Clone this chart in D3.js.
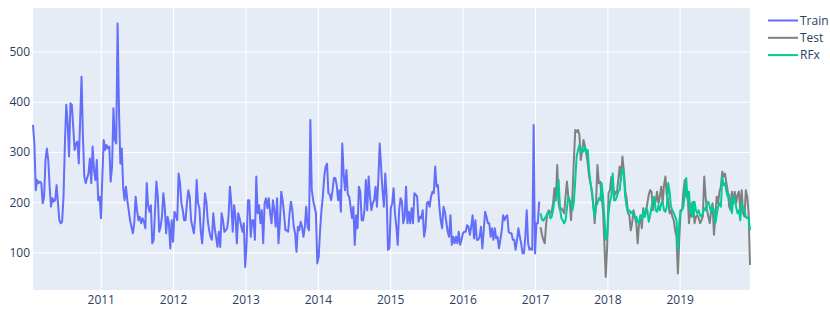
<!DOCTYPE html>
<html>
<head>
<meta charset="utf-8">
<script src="https://cdn.jsdelivr.net/npm/d3@7"></script>
<style>
  body { margin: 0; background: #fff; }
  svg text { font-family: "Open Sans", verdana, arial, sans-serif; fill: #2a3f5f; font-size: 12px; }
</style>
</head>
<body>
<svg width="830" height="314"></svg>
<script>
// weekly series, first week of each
const trainStart = "2010-01-24";
const testStart = "2017-01-29";

const trainValues = [
  354,317,224,244,238,241,238,198,211,284,307,284,231,191,208,201,204,234,198,164,158,161,211,317,394,357,291,397,394,350,304,317,321,277,364,450,331,251,238,248,257,287,238,311,264,
  244,284,204,211,168,251,324,304,314,307,311,241,271,387,324,317,556,384,277,307,231,204,231,204,184,164,151,138,158,211,184,164,171,158,168,161,148,238,194,181,194,118,125,184,241,211,141,151,171,218,190,
  138,171,158,108,164,121,181,174,164,257,238,198,184,164,164,198,224,211,164,151,138,171,244,198,188,141,118,164,218,201,164,144,131,125,178,148,131,111,141,111,178,164,141,144,148,171,231,
  198,141,194,171,118,178,168,154,141,158,71,118,204,204,131,164,164,125,251,178,194,158,184,118,198,208,188,208,178,158,204,184,151,208,118,158,221,204,178,144,144,141,178,201,184,151,138,
  101,151,144,161,151,131,151,191,151,144,364,224,204,191,178,78,91,144,184,211,251,271,277,218,215,204,224,248,248,234,204,224,181,317,257,224,264,215,211,191,168,191,115,174,148,231,221,
  164,164,184,244,184,251,211,184,198,204,231,191,244,317,271,224,191,257,211,105,108,188,198,228,178,151,115,184,208,201,158,171,231,158,181,158,188,158,218,215,211,161,171,168,184,131,
  148,198,201,191,211,221,218,271,231,234,191,164,148,191,181,161,141,131,174,115,131,118,131,118,141,115,125,138,141,141,154,151,135,151,174,128,164,125,125,131,151,108,144,181,171,158,158,
  131,148,125,148,128,131,108,125,144,174,164,171,174,141,138,138,125,125,105,125,148,131,118,98,98,131,184,118,105,108,105,354,98,158,158,201
];

const testValues = [
  150,135,125,118,158,178,184,
  178,181,198,228,204,274,198,184,188,184,178,211,241,211,201,164,215,284,344,340,344,334,284,304,324,311,297,277,251,238,218,198,158,198,274,238,241,211,184,118,51,111,218,224,250,238,211,
  221,218,244,271,
  244,291,264,224,208,178,174,144,158,184,171,158,118,158,171,148,188,171,178,198,215,224,221,184,204,201,221,198,211,231,198,234,251,215,204,178,184,171,164,144,131,58,
  125,184,
  184,221,244,211,221,158,184,171,201,158,171,174,168,158,164,171,251,211,184,171,158,184,198,135,171,211,198,221,231,261,251,257,238,221,191,184,221,198,221,198,215,221,184,224,178,171,224,211,178,
  75
];

const rfxValues = [
  178,165,163,168,172,178,182,
  168,171,184,204,204,215,244,188,168,164,158,164,188,211,204,201,184,201,244,291,304,314,301,304,301,311,297,304,264,238,224,191,171,191,198,208,204,238,211,171,125,131,178,201,211,257,204,204,211,221,224,
  251,267,257,211,191,181,184,178,181,174,168,171,161,158,174,168,181,171,188,184,161,174,191,204,211,184,181,194,184,198,201,184,181,191,238,221,191,184,178,171,164,105,
  160,184,
  184,191,218,248,204,221,178,198,171,201,184,178,184,174,171,178,188,184,198,201,191,178,191,184,158,174,191,198,191,251,234,238,221,211,215,198,178,211,204,191,178,184,164,201,184,184,171,168,171,
  144
];

const yTicks = [100, 200, 300, 400, 500];
const seriesNames = ["Train", "Test", "RFx"];
const seriesColors = ["#636efa", "grey", "#00cc96"];

const svg = d3.select('svg');
const margin = { top: 8, left: 33, right: 80, bottom: 24 };
const width = +svg.attr('width') - margin.left - margin.right;
const height = +svg.attr('height') - margin.top - margin.bottom;

const parseDay = d3.utcParse("%Y-%m-%d");
const toWeeks = (start, values) => values.map((v, i) => ({
  date: d3.utcWeek.offset(parseDay(start), i),
  value: v
}));

const series = [
  toWeeks(trainStart, trainValues),
  toWeeks(testStart, testValues),
  toWeeks(testStart, rfxValues)
];

const allPoints = series.flat();
const x = d3.scaleUtc()
  .domain(d3.extent(allPoints, d => d.date))
  .range([0, width]);
const y = d3.scaleLinear()
  .domain([25, 587])
  .range([height, 0]);

const g = svg.append("g").attr("transform", `translate(${margin.left}, ${margin.top})`);

g.append("rect")
  .attr("width", width)
  .attr("height", height)
  .attr("fill", "#e5ecf6");

function customYAxis(g) {
  g.call(d3.axisLeft(y).tickValues(yTicks).tickSize(-width).tickPadding(3));
  g.select(".domain").remove();
  g.selectAll(".tick line").attr("stroke", "#fff").attr("stroke-width", 1);
  g.selectAll(".tick text").attr("font-size", null);
}

function customXAxis(g) {
  g.call(d3.axisBottom(x).ticks(d3.utcYear).tickFormat(d3.utcFormat("%Y")).tickSize(-height).tickPadding(5));
  g.select(".domain").remove();
  g.selectAll(".tick line").attr("stroke", "#fff").attr("stroke-width", 1);
  g.selectAll(".tick text").attr("font-size", null);
}

g.append("g")
  .attr("transform", "translate(0," + height + ")")
  .call(customXAxis);
g.append("g")
  .call(customYAxis);
g.selectAll("text").attr("font-family", null);

const line = d3.line()
  .x(d => x(d.date))
  .y(d => y(d.value));

g.selectAll(".series")
  .data(series)
  .enter().append("path")
  .attr("class", "series")
  .attr("d", d => line(d))
  .attr("fill", "none")
  .attr("stroke", (d, i) => seriesColors[i])
  .attr("stroke-width", 2)
  .attr("stroke-linejoin", "round");

// legend
const legend = svg.append("g")
  .attr("transform", "translate(768, 20.5)");

const item = legend.selectAll(".item")
  .data(seriesNames)
  .enter().append("g")
  .attr("class", "item")
  .attr("transform", (d, i) => `translate(0, ${i * 17.3})`);

item.append("line")
  .attr("x1", 0)
  .attr("x2", 30)
  .attr("stroke", (d, i) => seriesColors[i])
  .attr("stroke-width", 2);

item.append("text")
  .attr("x", 32)
  .attr("dy", "0.35em")
  .text(d => d);
</script>
</body>
</html>
